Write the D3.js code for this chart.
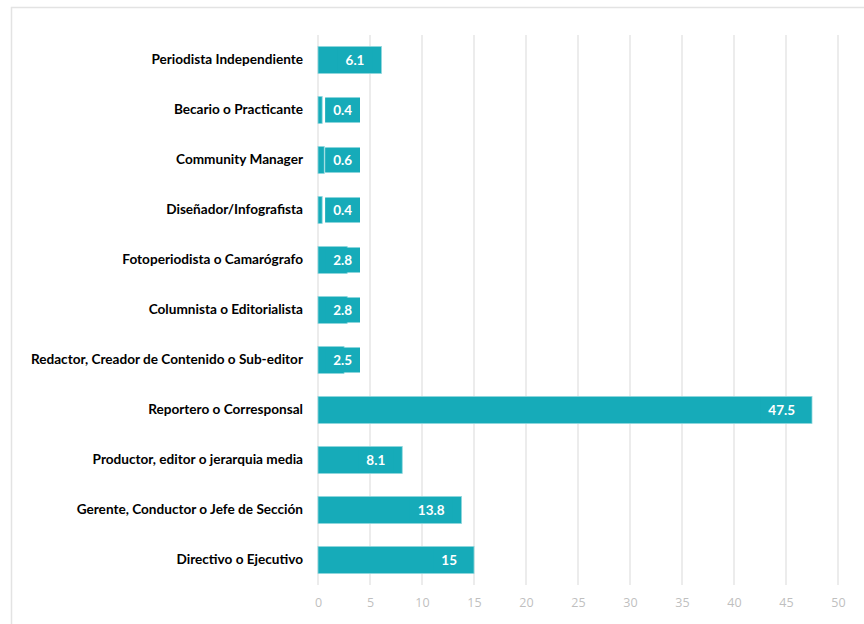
<!DOCTYPE html>
<html>
<head>
<meta charset="utf-8">
<script src="https://cdn.jsdelivr.net/npm/d3@7"></script>
<style>
  html, body { margin: 0; padding: 0; background: #fff; }
  svg { display: block; }
</style>
</head>
<body>
<svg id="chart" width="864" height="624"></svg>
<script>
// Roles, listed top to bottom
const categories = [
  "Periodista Independiente",
  "Becario o Practicante",
  "Community Manager",
  "Diseñador/Infografista",
  "Fotoperiodista o Camarógrafo",
  "Columnista o Editorialista",
  "Redactor, Creador de Contenido o Sub-editor",
  "Reportero o Corresponsal",
  "Productor, editor o jerarquia media",
  "Gerente, Conductor o Jefe de Sección",
  "Directivo o Ejecutivo"
];
// Share of respondents per role (%)
const values = [6.1, 0.4, 0.6, 0.4, 2.8, 2.8, 2.5, 47.5, 8.1, 13.8, 15];
// Axis ticks
const xTicks = [0, 5, 10, 15, 20, 25, 30, 35, 40, 45, 50];

const data = categories.map((c, i) => ({ cat: c, val: values[i] }));

const svg = d3.select("#chart");
const teal = "#16abb9";
const font = "Lato, 'Open Sans', sans-serif";

// Outer chart frame (open to the right and bottom)
svg.append("rect")
  .attr("x", 11.5).attr("y", 7.5)
  .attr("width", 900).attr("height", 700)
  .attr("fill", "none")
  .attr("stroke", "#e3e3e3")
  .attr("stroke-width", 1.5);

const x = d3.scaleLinear().domain([0, 50]).range([318, 838]);
const y = d3.scaleBand().domain(categories).range([35, 585]).paddingInner(0.46).paddingOuter(0.23);

// Vertical gridlines
svg.append("g").selectAll("line")
  .data(xTicks)
  .join("line")
  .attr("x1", d => x(d)).attr("x2", d => x(d))
  .attr("y1", 35).attr("y2", 585)
  .attr("stroke", "#e6e6e6")
  .attr("stroke-width", 1.5);

// Bottom axis tick labels
const xAxis = d3.axisBottom(x).tickValues(xTicks).tickSize(0).tickPadding(0);
const ax = svg.append("g").attr("transform", "translate(0,598)").call(xAxis);
ax.select(".domain").remove();
ax.selectAll("text")
  .attr("fill", "#bfbfbf")
  .attr("font-family", "'Open Sans', sans-serif")
  .attr("font-size", 12.5)
  .attr("dy", "0.71em");

// Category labels
const yAxis = d3.axisLeft(y).tickSize(0).tickPadding(0);
const ay = svg.append("g").attr("transform", "translate(303,0)").call(yAxis);
ay.select(".domain").remove();
ay.selectAll("text")
  .attr("fill", "#000")
  .attr("font-family", font)
  .attr("font-weight", "bold")
  .attr("font-size", 13.6);

// Bars
svg.append("g").selectAll("rect")
  .data(data)
  .join("rect")
  .attr("x", x(0))
  .attr("y", d => y(d.cat))
  .attr("width", d => x(d.val) - x(0))
  .attr("height", y.bandwidth())
  .attr("fill", teal)
  .attr("stroke", "#8fd6dd")
  .attr("stroke-width", 0.8);

// Value labels, each on a teal tag placed near the end of its bar
const labels = svg.append("g").selectAll("g")
  .data(data)
  .join("g");

labels.each(function(d) {
  const g = d3.select(this);
  const endX = Math.max(x(d.val) - 17, 352);
  const cy = y(d.cat) + y.bandwidth() / 2;
  const t = g.append("text")
    .attr("x", endX)
    .attr("y", cy)
    .attr("dy", "0.36em")
    .attr("text-anchor", "end")
    .attr("fill", "#fff")
    .attr("font-family", font)
    .attr("font-weight", "bold")
    .attr("font-size", 13.5)
    .text(d.val);
  const w = t.node().getComputedTextLength();
  g.insert("rect", "text")
    .attr("x", endX - w - 8)
    .attr("y", cy - 12.5)
    .attr("width", w + 16)
    .attr("height", 25)
    .attr("fill", teal);
});
</script>
</body>
</html>
